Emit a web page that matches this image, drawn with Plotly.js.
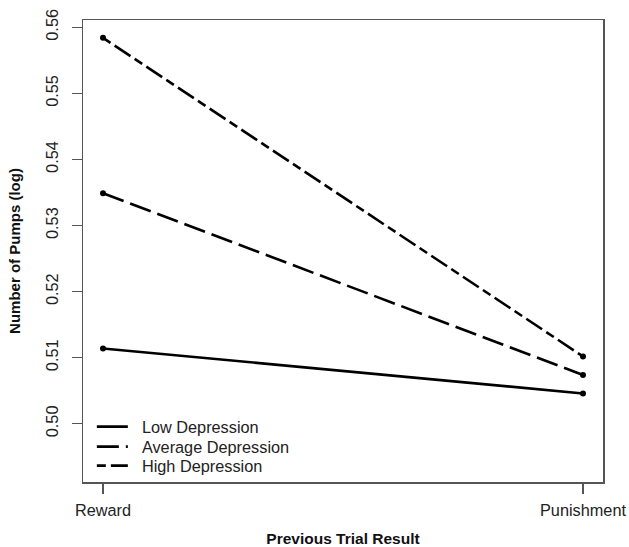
<!DOCTYPE html>
<html>
<head>
<meta charset="utf-8">
<script src="https://cdn.plot.ly/plotly-3.0.1.min.js"></script>
<style>html,body{margin:0;padding:0;background:#fff;}#chart{width:629px;height:547px;}</style>
</head>
<body>
<div id="chart"></div>
<script>
const categories = ["Reward", "Punishment"];
const seriesNames = ["Low Depression", "Average Depression", "High Depression"];
const lowValues = [0.5114, 0.5046];
const averageValues = [0.5349, 0.5074];
const highValues = [0.5584, 0.5102];
const yTickValues = [0.50, 0.51, 0.52, 0.53, 0.54, 0.55, 0.56];

const seriesValues = [lowValues, averageValues, highValues];
const dashes = ["solid", "22px,7px", "9px,5px,19px,5px"];
const legendIds = ["legend", "legend2", "legend3"];
const traces = [];
seriesValues.forEach((vals, i) => {
  traces.push({
    x: categories, y: vals, type: "scatter", mode: "lines",
    name: "\u00a0\u00a0" + seriesNames[i], showlegend: true, legend: legendIds[i],
    line: {color: "#000", width: 2.6, dash: dashes[i]},
    hoverinfo: "skip"
  });
});
seriesValues.forEach((vals, i) => {
  traces.push({
    x: categories, y: vals, type: "scatter", mode: "markers",
    showlegend: false, marker: {color: "#000", size: 6},
    hoverinfo: "skip"
  });
});

const family = "Liberation Sans, Arial, sans-serif";
function legendAt(yPaper) {
  return {
    x: 0.017, y: yPaper, xanchor: "left", yanchor: "middle",
    bgcolor: "rgba(0,0,0,0)", borderwidth: 0,
    font: {family: family, size: 16.3, color: "#222"},
    itemwidth: 31
  };
}
const layout = {
  width: 629, height: 547,
  margin: {l: 83, r: 26, t: 20, b: 65},
  paper_bgcolor: "#fff", plot_bgcolor: "#fff",
  font: {family: family, size: 16, color: "#222"},
  showlegend: true,
  legend: legendAt(0.119),
  legend2: legendAt(0.0758),
  legend3: legendAt(0.0346),
  xaxis: {
    type: "category", range: [-0.0417, 1.0417],
    showline: true, mirror: true, linecolor: "#555", linewidth: 1.5,
    ticks: "outside", ticklen: 10, tickcolor: "#555", tickwidth: 1.3,
    ticklabelstandoff: 3,
    showgrid: false, zeroline: false,
    tickfont: {family: family, size: 16.3, color: "#222"},
    title: {text: "<b>Previous Trial Result</b>", font: {family: family, size: 15.5, color: "#111"}, standoff: 15}
  },
  yaxis: {
    range: [0.4912, 0.5611],
    tickvals: yTickValues, tickformat: ".2f", tickangle: -90,
    showline: true, mirror: true, linecolor: "#555", linewidth: 1.5,
    ticks: "outside", ticklen: 10, tickcolor: "#555", tickwidth: 1.3,
    ticklabelstandoff: 7,
    showgrid: false, zeroline: false,
    tickfont: {family: family, size: 16.3, color: "#222"},
    title: {text: "<b>Number of Pumps (log)</b>", font: {family: family, size: 15, color: "#111"}, standoff: 18}
  }
};
Plotly.newPlot("chart", traces, layout, {staticPlot: true, displayModeBar: false});
</script>
</body>
</html>
